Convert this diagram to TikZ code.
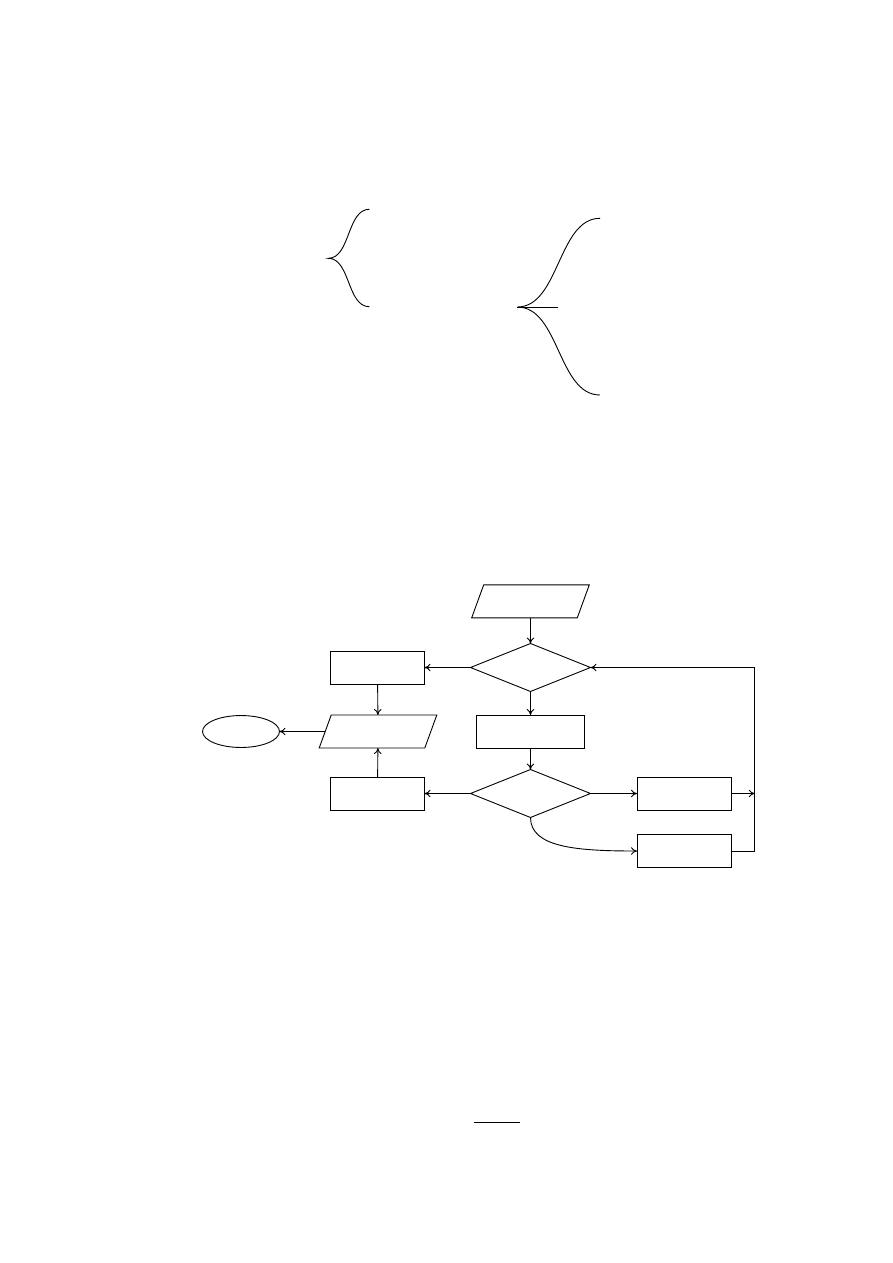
\documentclass[tikz,border=0pt]{standalone}
\usetikzlibrary{shapes.geometric,arrows.meta}
\begin{document}
\begin{tikzpicture}[x=0.6667pt,y=-0.6667pt,line width=0.6pt,>={To[length=4pt,width=5pt]}]
        % Styles
        \tikzstyle{block}=[draw,rectangle,inner sep=0pt,outer sep=0pt,minimum width=62.7pt,minimum height=22pt]
        \tikzstyle{wide block}=[block,minimum width=72pt]
        \tikzstyle{decision}=[draw,diamond,inner sep=0pt,outer sep=0pt,minimum width=80pt,minimum height=32pt]
        \tikzstyle{io}=[draw,trapezium,trapezium left angle=70,trapezium right angle=110,inner xsep=31.2pt,inner ysep=11pt,outer sep=0pt]
        \tikzstyle{terminal}=[draw,ellipse,inner sep=0pt,outer sep=0pt,minimum width=51.3pt,minimum height=21.3pt]
        \useasboundingbox (0,0) rectangle (893,1263);
        %braces
        \draw (369.3,209.3) .. controls (347,209.3) and (350.3,258.3) .. (328.3,258.3)
              .. controls (350.3,258.3) and (347,306.7) .. (369.3,306.7);
        \draw (600,218.3) .. controls (558,218.3) and (559.3,307) .. (517.3,307)
              .. controls (559.3,307) and (558,395) .. (600,395);
        \draw (517.3,307) -- (557.7,307);
        %the flowchart
        \node[io] (input) at (530.5,601.3) {};
        \node[decision] (test1) at (530.5,667.5) {};
        \node[block] (left1) at (377.5,667.5) {};
        \node[io] (output) at (378,731.5) {};
        \node[terminal] (stop) at (241,731.5) {};
        \node[wide block] (work) at (530.5,731.5) {};
        \node[decision] (test2) at (530.5,793.5) {};
        \node[block] (left2) at (377.5,793.5) {};
        \node[block] (right1) at (684,793.5) {};
        \node[block] (right2) at (684,851) {};
        \coordinate (rail) at (754.8,793.5);
        %arrows
        \draw[->] (input) -- (test1);
        \draw[->] (test1) -- (left1);
        \draw[->] (left1) -- (output);
        \draw[->] (output) -- (stop);
        \draw[->] (test1) -- (work);
        \draw[->] (work) -- (test2);
        \draw[->] (test2) -- (left2);
        \draw[->] (left2) -- (output);
        \draw[->] (test2) -- (right1);
        \draw[->] (right1) -- (rail);
        \draw[->] (test2.south) .. controls +(0,30) and +(-60,0) .. (right2.west);
        \draw[->] (right2.east) -| (rail |- test1.east) -- (test1.east);
        %rule
        \draw (474,1122.3) -- (520,1122.3);
\end{tikzpicture}
\end{document}
